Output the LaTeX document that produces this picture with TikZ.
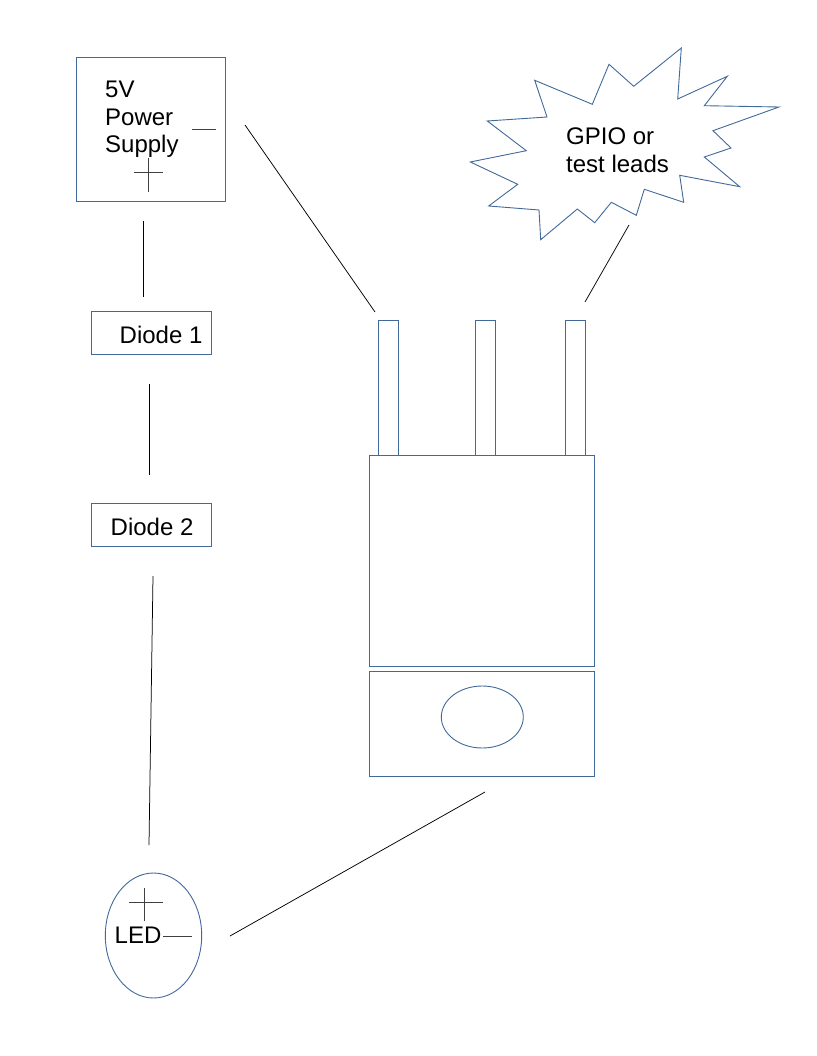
\documentclass[tikz,border=0pt]{standalone}
\usepackage{fontspec}
\setmainfont{Liberation Sans}
\definecolor{shapeblue}{HTML}{41699A}
\tikzset{
  px/.style={x=1pt,y=-1pt},
  outline/.style={draw=shapeblue,line width=0.9pt,fill=none},
  boxshape/.style={outline,rectangle,inner sep=0pt,minimum width=#1},
  wire/.style={draw=black,line width=0.75pt},
  polarity/.style={draw=black!75,line width=0.9pt},
  textlabel/.style={anchor=base west,inner sep=0pt,font=\fontsize{24}{27.6}\selectfont,text=black}
}
\begin{document}
\begin{tikzpicture}[px]
\useasboundingbox (0,0) rectangle (816,1056);
% shapes
\node[boxshape=149pt,minimum height=144pt] (power) at (150.8,129.3) {};
\node[boxshape=120pt,minimum height=43pt] (diodeA) at (151.2,333.2) {};
\node[boxshape=120pt,minimum height=43pt] (diodeB) at (151.7,525.2) {};
\node[boxshape=19.5pt,minimum height=135pt] (pinA) at (388.5,388.2) {};
\node[boxshape=19.5pt,minimum height=135pt] (pinB) at (485.5,388.2) {};
\node[boxshape=19.5pt,minimum height=135pt] (pinC) at (575.5,388.2) {};
\node[boxshape=225.5pt,minimum height=211pt] (body) at (482,561.2) {};
\node[boxshape=225.5pt,minimum height=105pt] (base) at (482,724.2) {};
\draw[outline] (482.3,717) ellipse [x radius=41,y radius=31];
\coordinate (ledc) at (153.5,935.5);
\draw[outline] (ledc) ellipse [x radius=48.2,y radius=62.5];
\draw[outline,line join=miter] (681.3,48) -- (677.7,99) -- (727.3,76.3) -- (704.3,105.7) -- (779,107) -- (713,130.7) -- (731,148) -- (704.3,157) -- (739.7,186.7) -- (679.7,175.3) -- (683.7,202.3) -- (644.3,189.3) -- (636.3,215.3) -- (611.3,202.3) -- (594.7,222.7) -- (577.3,209) -- (540.7,239.7) -- (539,210) -- (488.7,206) -- (517.7,184.3) -- (470.3,162) -- (526.3,150.7) -- (487.3,121) -- (547,117) -- (534.7,80.3) -- (592.3,104.3) -- (609,64.3) -- (633.7,86.3) -- cycle;
% texts
\node[textlabel] (t5v) at (105,98) {5V};
\node[textlabel] (tpower) at (105,126) {Power};
\node[textlabel] (tsupply) at (105,153) {Supply};
\node[textlabel] (tdA) at (119.5,343) {Diode 1};
\node[textlabel] (tdB) at (110.5,535) {Diode 2};
\node[textlabel] (tgpio) at (566,145) {GPIO or};
\node[textlabel] (tleads) at (566,173) {test leads};
\node[textlabel] (tled) at (114.5,943) {LED};
% polarity marks
\draw[polarity] (134,172) -- (163,172);
\draw[polarity] (148.5,158) -- (148.5,192);
\draw[polarity] (192,129) -- (216,129);
\draw[polarity] (129,902) -- (163,902);
\draw[polarity] (144,888) -- (144,921);
\draw[polarity] (163,936) -- (192,936);
% connectors (free-standing, as in the reference)
\coordinate (a1) at (143.5,221); \coordinate (a2) at (143.5,297);
\coordinate (b1) at (149,384);   \coordinate (b2) at (149,475);
\coordinate (c1) at (153,576);   \coordinate (c2) at (149,845);
\coordinate (d1) at (245,125);   \coordinate (d2) at (375,312);
\coordinate (e1) at (629,225);   \coordinate (e2) at (585,302);
\coordinate (f1) at (485,792);   \coordinate (f2) at (230,936);
\draw[wire] (a1) -- (a2);
\draw[wire] (b1) -- (b2);
\draw[wire] (c1) -- (c2);
\draw[wire] (d1) -- (d2);
\draw[wire] (e1) -- (e2);
\draw[wire] (f1) -- (f2);
\end{tikzpicture}
\end{document}
